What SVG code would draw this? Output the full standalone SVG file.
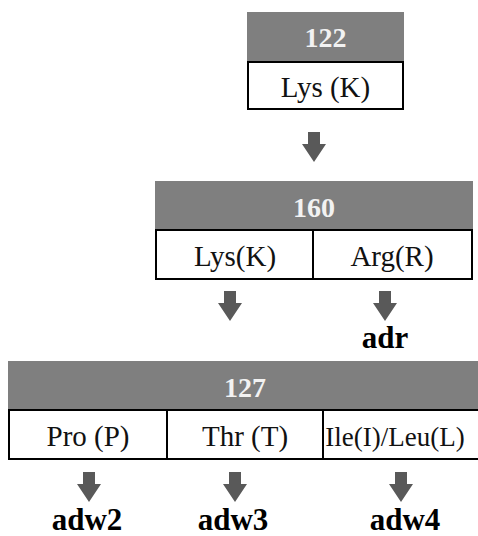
<svg xmlns="http://www.w3.org/2000/svg" width="478" height="536" viewBox="0 0 478 536">
<defs>
<style>
.hdr{fill:#7f7f7f}
.cell{fill:#fff;stroke:#000;stroke-width:2}
text{font-family:'Liberation Serif','Times New Roman','DejaVu Serif',serif;text-anchor:middle}
.num{font-weight:bold;font-size:28px;fill:#f2f2f2}
.aa{font-size:29px;fill:#111}
.lbl{font-weight:bold;font-size:31px;fill:#000}
.arr{fill:#595959}
</style>
<path id="a" d="M-6,0 H6 V12 H12 L0,30 L-12,12 H-6 Z"/>
</defs>
<g id="n122">
<rect class="hdr" x="247" y="12" width="157" height="50"/>
<rect class="cell" x="248" y="62" width="155" height="47"/>
<text class="num" x="325.5" y="47">122</text>
<text class="aa" x="325.5" y="97">Lys (K)</text>
</g>
<g id="n160">
<rect class="hdr" x="155" y="181" width="318" height="49"/>
<rect class="cell" x="156" y="230" width="316" height="49"/>
<line x1="313" y1="230" x2="313" y2="279" stroke="#000" stroke-width="2"/>
<text class="num" x="314" y="217">160</text>
<text class="aa" x="235" y="266">Lys(K)</text>
<text class="aa" x="392" y="266">Arg(R)</text>
</g>
<g id="n127">
<rect class="hdr" x="8" y="361" width="470" height="49"/>
<rect class="cell" x="9" y="410" width="472" height="49"/>
<line x1="167" y1="410" x2="167" y2="459" stroke="#000" stroke-width="2"/>
<line x1="323" y1="410" x2="323" y2="459" stroke="#000" stroke-width="2"/>
<text class="num" x="245" y="397">127</text>
<text class="aa" x="88" y="446">Pro (P)</text>
<text class="aa" x="245" y="446">Thr (T)</text>
<text class="aa" x="395" y="446" style="font-size:27px">Ile(I)/Leu(L)</text>
</g>
<g id="connectors">
<use href="#a" class="arr" x="314" y="132"/>
<use href="#a" class="arr" x="230" y="291"/>
<use href="#a" class="arr" x="385" y="291"/>
<use href="#a" class="arr" x="89" y="472"/>
<use href="#a" class="arr" x="235" y="472"/>
<use href="#a" class="arr" x="401" y="472"/>
</g>
<g id="labels">
<text class="lbl" x="385" y="348">adr</text>
<text class="lbl" x="87" y="530">adw2</text>
<text class="lbl" x="233" y="530">adw3</text>
<text class="lbl" x="405" y="530">adw4</text>
</g>
</svg>
